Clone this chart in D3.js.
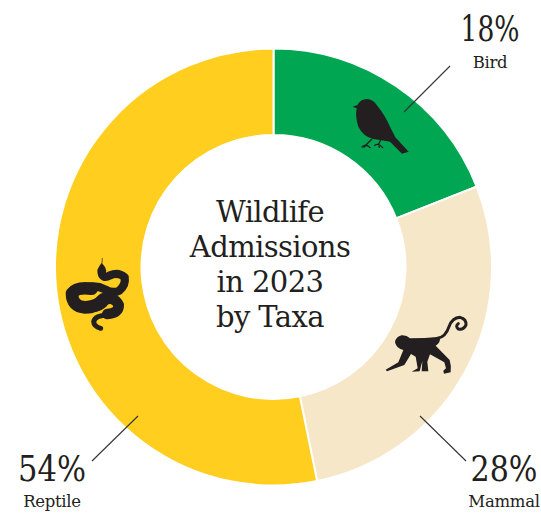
<!DOCTYPE html>
<html>
<head>
<meta charset="utf-8">
<script src="https://cdn.jsdelivr.net/npm/d3@7"></script>
<style>
    html, body { margin: 0; background: #fff; }
    text { font-family: "DejaVu Serif", serif; fill: #231f20; text-anchor: middle; }
    .pct { font-size: 36px; }
    .taxon { font-size: 16.5px; letter-spacing: -0.3px; }
    .title { font-size: 29px; letter-spacing: -0.6px; }
</style>
</head>
<body>
<svg id="chart" width="541" height="513"></svg>
<script>
// -----------------------------
// data
// -----------------------------

const taxa = ['Bird', 'Mammal', 'Reptile']
const percentLabels = [18, 28, 54]
const sliceShares = [19, 27.8, 53.2] // measured off the ring, a bit different from the printed labels
const colours = ['#00a651', '#f7e7c9', '#ffce1f']
const titleLines = ['Wildlife', 'Admissions', 'in 2023', 'by Taxa']

const w = 541
const h = 513
const centre = {x: 273.5, y: 267}
const inkColour = '#231f20'

const svg = d3.select('#chart')
    .attr('viewBox', '0 0 ' + w + ' ' + h)

// -----------------------------
// ring
// -----------------------------

const pie = d3.pie().sort(null)
const arc = d3.arc().innerRadius(132).outerRadius(218.5)

const ring = svg.append('g')
    .attr('transform', 'translate(' + centre.x + ',' + centre.y + ')')

ring.selectAll('path.slice')
    .data(pie(sliceShares))
    .enter()
    .append('path')
    .attr('class', 'slice')
    .attr('d', arc)
    .attr('fill', (d, i) => colours[i])
    .attr('stroke', '#fff')
    .attr('stroke-width', 2)

// -----------------------------
// title
// -----------------------------

const titleScale = d3.scalePoint()
    .domain(titleLines)
    .range([222, 327])

svg.selectAll('text.title')
    .data(titleLines)
    .enter()
    .append('text')
    .attr('class', 'title')
    .attr('x', 270)
    .attr('y', d => titleScale(d))
    .text(d => d)

// -----------------------------
// labels and leader lines
// -----------------------------

const labelSpots = [
    {x: 490, pct: 41, name: 68, width: 59, line: [404, 112, 450, 66]},
    {x: 504, pct: 481, name: 507, width: 67, line: [420, 416, 466, 461]},
    {x: 52, pct: 481, name: 507, width: 68, line: [138, 416, 92, 461]}
]

taxa.forEach((taxon, i) => {
    const spot = labelSpots[i]
    svg.append('line')
        .attr('x1', spot.line[0])
        .attr('y1', spot.line[1])
        .attr('x2', spot.line[2])
        .attr('y2', spot.line[3])
        .attr('stroke', '#333')
        .attr('stroke-width', 1.1)

    // the numbers in the original are narrower than DejaVu, squeeze them sideways
    const pct = svg.append('text')
        .attr('class', 'pct')
        .text(percentLabels[i] + '%')
    const squeeze = spot.width / pct.node().getComputedTextLength()
    pct.attr('transform', 'translate(' + spot.x + ',' + spot.pct + ') scale(' + squeeze + ',1)')

    svg.append('text')
        .attr('class', 'taxon')
        .attr('x', spot.x)
        .attr('y', spot.name)
        .text(taxon)
})

// -----------------------------
// icons, drawn in the 3x crop coordinates
// -----------------------------

const bird = svg.append('g')
    .attr('transform', 'translate(340,0) scale(0.3333)')

bird.append('path')
    .attr('fill', inkColour)
    .attr('d', 'M38 320 L52 315 Q62 297 80 297 Q100 298 110 315 Q135 345 150 380 L166 412 L206 455 L186 461 L150 425 Q125 420 100 417 Q70 410 55 380 Q45 350 50 325 Z')

bird.append('path')
    .attr('fill', 'none')
    .attr('stroke', inkColour)
    .attr('stroke-width', 4)
    .attr('stroke-linecap', 'round')
    .attr('d', 'M95 418 L80 433 M66 441 Q78 430 90 443 M80 433 L72 442 M122 420 L116 432 M104 436 Q116 428 128 443 M116 432 L118 442')

const snake = svg.append('g')
    .attr('transform', 'translate(50,250) scale(0.3333)')

snake.append('path')
    .attr('fill', 'none')
    .attr('stroke', inkColour)
    .attr('stroke-width', 25)
    .attr('stroke-linecap', 'round')
    .attr('stroke-linejoin', 'round')
    .attr('d', 'M155 68 Q158 88 180 76 Q205 65 224 82 Q228 105 208 122 Q190 132 165 118 Q140 105 110 112')

snake.append('path')
    .attr('fill', 'none')
    .attr('stroke', inkColour)
    .attr('stroke-width', 38)
    .attr('stroke-linecap', 'round')
    .attr('stroke-linejoin', 'round')
    .attr('d', 'M125 116 Q80 110 66 130 Q66 170 105 172 Q140 172 160 148')

snake.append('path')
    .attr('fill', 'none')
    .attr('stroke', inkColour)
    .attr('stroke-width', 32)
    .attr('stroke-linecap', 'round')
    .attr('stroke-linejoin', 'round')
    .attr('d', 'M120 170 Q150 172 165 150 Q192 138 206 165 Q207 190 172 192')

snake.append('path')
    .attr('fill', 'none')
    .attr('stroke', inkColour)
    .attr('stroke-width', 15)
    .attr('stroke-linecap', 'round')
    .attr('d', 'M178 196 Q135 195 131 215 Q132 230 152 235')

snake.append('path')
    .attr('fill', inkColour)
    .attr('d', 'M155 38 Q167 50 169 62 Q165 78 155 82 Q143 75 142 60 Q147 48 155 38 Z')

snake.append('path')
    .attr('fill', 'none')
    .attr('stroke', inkColour)
    .attr('stroke-width', 2)
    .attr('d', 'M156 40 L157 24')

const monkey = svg.append('g')
    .attr('transform', 'translate(375,305) scale(0.3333)')

monkey.append('path')
    .attr('fill', inkColour)
    .attr('d', 'M60 112 Q62 95 80 91 Q95 90 105 100 Q150 100 195 95 Q198 112 182 122 L224 165 Q230 185 227 202 L207 206 L205 197 L213 190 L208 172 L165 148 L157 170 L160 199 L140 199 L142 168 L134 199 L110 200 L128 190 L122 155 L108 147 L88 180 L36 199 L32 194 L70 172 L85 135 Q65 132 60 112 Z')

monkey.append('path')
    .attr('fill', 'none')
    .attr('stroke', inkColour)
    .attr('stroke-width', 9)
    .attr('stroke-linecap', 'round')
    .attr('d', 'M188 100 Q212 96 222 65 Q232 38 255 37 Q275 42 273 60 Q265 76 250 72 Q240 64 250 56')
</script>
</body>
</html>
